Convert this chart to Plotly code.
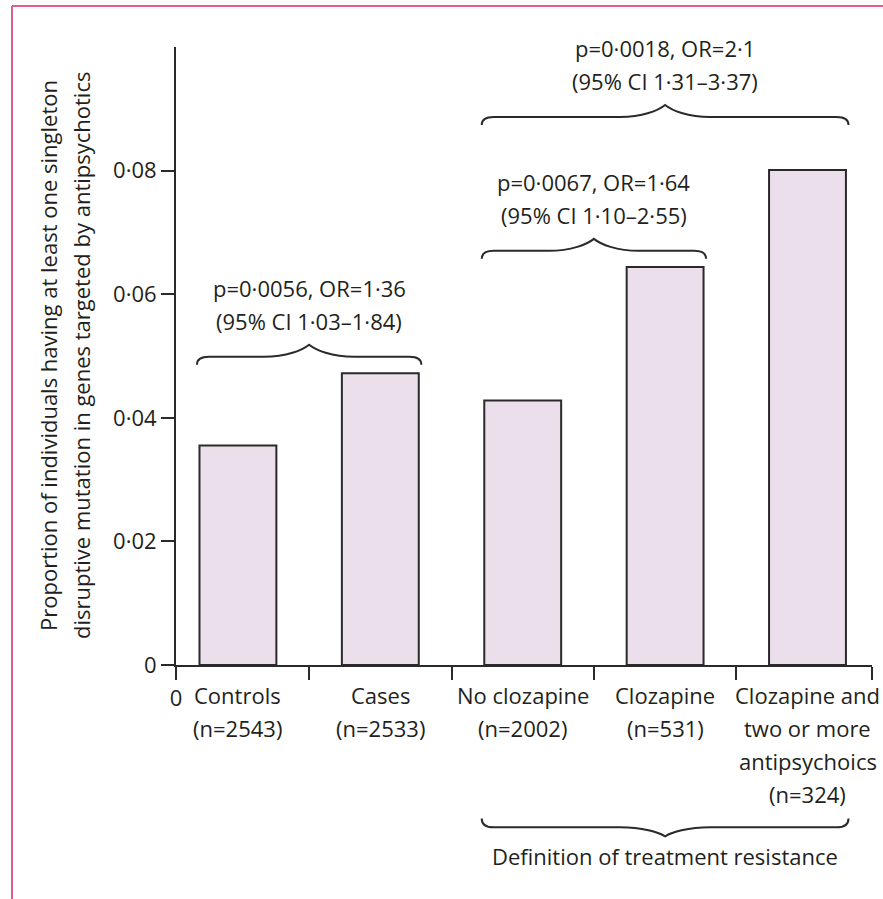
import plotly.graph_objects as go

# ---------------- data ----------------
categories = ["Controls", "Cases", "No clozapine", "Clozapine",
              "Clozapine and two or more antipsychoics"]
category_label_lines = [
    ["Controls", "(n=2543)"],
    ["Cases", "(n=2533)"],
    ["No clozapine", "(n=2002)"],
    ["Clozapine", "(n=531)"],
    ["Clozapine and", "two or more", "antipsychoics", "(n=324)"],
]
proportions = [0.0355, 0.0472, 0.0428, 0.0644, 0.0801]

y_tick_values = [0, 0.02, 0.04, 0.06, 0.08]
y_tick_labels = ["0", "0·02", "0·04", "0·06", "0·08"]

y_title_lines = ["Proportion of individuals having at least one singleton",
                 "disruptive mutation in genes targeted by antipsychotics"]

comparison_spans = [(0, 1), (2, 3), (2, 4)]          # first bar, last bar
comparison_line1 = ["p=0·0056, OR=1·36", "p=0·0067, OR=1·64", "p=0·0018, OR=2·1"]
comparison_line2 = ["(95% CI 1·03–1·84)", "(95% CI 1·10–2·55)", "(95% CI 1·31–3·37)"]

group_span = (2, 4)
group_label = "Definition of treatment resistance"

# ---------------- layout constants ----------------
W, H = 883, 899
ML, MR, MT, MB = 176, 11, 47, 233.5
PW, PH = W - ML - MR, H - MT - MB
XMIN, XMAX = -0.435, 4.453
YMAX = 0.1
PX_X = PW / (XMAX - XMIN)        # px per x unit
BAR_W = 0.54

FONT = "Open Sans"
FS = 22
TXT = "#231f20"
AX = "#2a2a2a"
BAR_FILL = "#eadfea"
BORDER = "#dd6086"

x_pos = list(range(len(categories)))


def py(px_from_top):
    """pixel y (from top of page) -> paper y"""
    return (MT + PH - px_from_top) / PH


def pxp(px_from_left):
    return (px_from_left - ML) / PW


def brace_path(x0, x1, y_end, up=True, end_h=8, tip_h=12, curl=12, tip_w=45):
    s = 1 if up else -1
    ye = y_end
    yf = ye + s * end_h / PH
    yt = yf + s * tip_h / PH
    h = yt - yf
    xm = (x0 + x1) / 2
    a = curl / PX_X
    b = tip_w / PX_X
    p = (f"M {x0},{ye} Q {x0},{yf} {x0 + a},{yf} "
         f"L {xm - b},{yf} "
         f"C {xm - 0.5 * b},{yf} {xm - 0.15 * b},{yt - 0.45 * h} {xm},{yt} "
         f"C {xm + 0.15 * b},{yt - 0.45 * h} {xm + 0.5 * b},{yf} {xm + b},{yf} "
         f"L {x1 - a},{yf} Q {x1},{yf} {x1},{ye}")
    return p


fig = go.Figure()
fig.add_trace(go.Bar(
    x=x_pos, y=proportions, width=BAR_W,
    marker=dict(color=BAR_FILL, line=dict(color=AX, width=2)),
    hoverinfo="skip",
))

shapes = []
annotations = []

# braces above bars
brace_end_px = [365, 259, 125]
pad = 0.018
for (i0, i1), l1, l2, epx in zip(comparison_spans, comparison_line1,
                                  comparison_line2, brace_end_px):
    x0 = x_pos[i0] - BAR_W / 2 - pad
    x1 = x_pos[i1] + BAR_W / 2 + pad
    ye = py(epx)
    shapes.append(dict(type="path", xref="x", yref="paper",
                       path=brace_path(x0, x1, ye, up=True),
                       line=dict(color=AX, width=2)))
    xm = (x0 + x1) / 2
    for txt, sh in ((l1, 77), (l2, 44)):
        annotations.append(dict(x=xm, y=ye, xref="x", yref="paper", text=txt,
                                showarrow=False, yshift=sh, xanchor="center",
                                yanchor="middle",
                                font=dict(family=FONT, size=FS, color=TXT)))

# bottom group brace
g0 = x_pos[group_span[0]] - BAR_W / 2 - pad
g1 = x_pos[group_span[1]] + BAR_W / 2 + pad
gye = py(819)
shapes.append(dict(type="path", xref="x", yref="paper",
                   path=brace_path(g0, g1, gye, up=False, end_h=9, tip_h=9),
                   line=dict(color=AX, width=2)))
annotations.append(dict(x=(g0 + g1) / 2, y=gye, xref="x", yref="paper",
                        text=group_label, showarrow=False, yshift=-38,
                        xanchor="center", yanchor="middle",
                        font=dict(family=FONT, size=FS, color=TXT)))

# category labels
for xi, lines in zip(x_pos, category_label_lines):
    for k, line in enumerate(lines):
        annotations.append(dict(x=xi, y=0, xref="x", yref="paper", text=line,
                                showarrow=False, yshift=-29.5 - 33 * k,
                                xanchor="center", yanchor="middle",
                                font=dict(family=FONT, size=FS, color=TXT)))

# y-axis title (two lines)
for line, xp in zip(y_title_lines, (48, 81)):
    annotations.append(dict(x=pxp(xp), y=0.5, xref="paper", yref="paper",
                            text=line, showarrow=False, textangle=-90,
                            xanchor="center", yanchor="middle",
                            font=dict(family=FONT, size=FS, color=TXT)))

# pink frame (left and top)
shapes.append(dict(type="line", xref="paper", yref="paper",
                   x0=pxp(12), x1=pxp(12), y0=py(6), y1=py(905),
                   line=dict(color=BORDER, width=2)))
shapes.append(dict(type="line", xref="paper", yref="paper",
                   x0=pxp(12), x1=pxp(890), y0=py(6), y1=py(6),
                   line=dict(color=BORDER, width=2)))

fig.update_layout(
    width=W, height=H,
    margin=dict(l=ML, r=MR, t=MT, b=MB, pad=0),
    paper_bgcolor="white", plot_bgcolor="white",
    showlegend=False, bargap=0,
    font=dict(family=FONT, size=FS, color=TXT),
    xaxis=dict(range=[XMIN, XMAX],
               tickvals=[XMIN + 0.001, 0.5, 1.5, 2.5, 3.5, XMAX - 0.001],
               ticktext=["0", "", "", "", "", ""],
               ticks="outside", ticklen=13, tickwidth=2, tickcolor=AX,
               showline=True, linewidth=2, linecolor=AX,
               showgrid=False, zeroline=False, fixedrange=True,
               tickfont=dict(family=FONT, size=FS, color=TXT)),
    yaxis=dict(range=[0, YMAX], tickvals=y_tick_values, ticktext=y_tick_labels,
               ticks="outside", ticklen=13, tickwidth=2, tickcolor=AX,
               showline=True, linewidth=2, linecolor=AX,
               showgrid=False, zeroline=False, fixedrange=True,
               tickfont=dict(family=FONT, size=FS, color=TXT)),
    shapes=shapes,
    annotations=annotations,
)

fig.write_html(
    "out.html",
    config={"displayModeBar": False, "staticPlot": True},
    post_script="document.body.style.margin='0';document.body.style.overflow='hidden';",
)
